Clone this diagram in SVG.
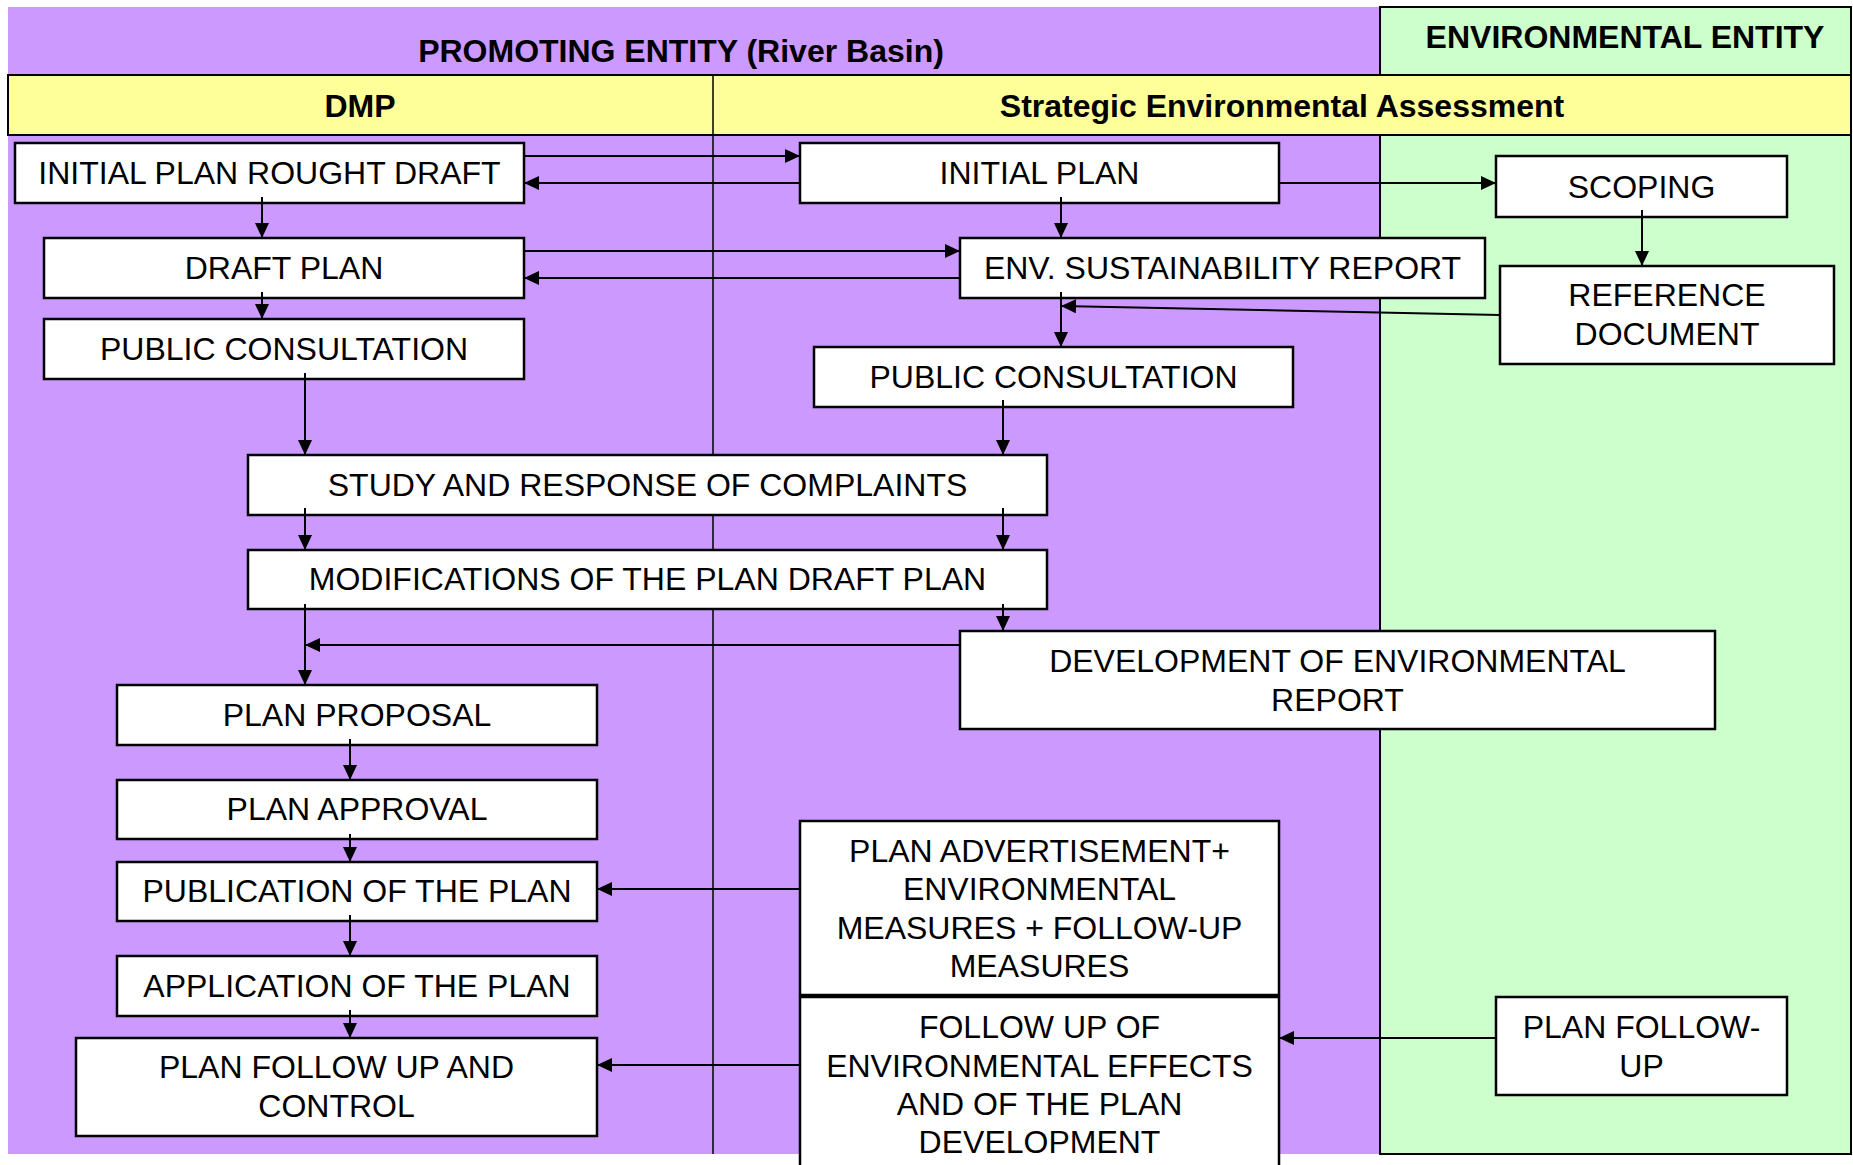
<svg xmlns="http://www.w3.org/2000/svg" width="1853" height="1165" viewBox="0 0 1853 1165">
<style>
.box{fill:#fff;stroke:#000;stroke-width:2.5}
.t{font-family:"Liberation Sans",Arial,sans-serif;font-size:32px;text-anchor:middle;fill:#000}
.h{font-family:"Liberation Sans",Arial,sans-serif;font-size:32px;font-weight:bold;text-anchor:middle;fill:#000}
.c{fill:none;stroke:#000;stroke-width:2;marker-end:url(#ah)}
</style>
<defs>
<marker id="ah" markerWidth="15" markerHeight="14" refX="15" refY="7" orient="auto" markerUnits="userSpaceOnUse">
<path d="M0,0 L15,7 L0,14 Z" fill="#000"/>
</marker>
</defs>
<rect x="0" y="0" width="1853" height="1165" fill="#fff"/>
<g id="lanes">
<rect x="8" y="7" width="1372" height="1147" fill="#CC99FF"/>
<rect x="1380" y="7" width="471" height="1147" fill="#CCFFCC" stroke="#000" stroke-width="2"/>
<rect x="8" y="75" width="1843" height="60" fill="#FFFF99" stroke="#000" stroke-width="2"/>
<line x1="713" y1="75" x2="713" y2="1154" stroke="#000" stroke-width="1.5"/>
<text class="h" x="681" y="62">PROMOTING ENTITY (River Basin)</text>
<text class="h" x="1625" y="48">ENVIRONMENTAL ENTITY</text>
<text class="h" x="360" y="117">DMP</text>
<text class="h" x="1282" y="117">Strategic Environmental Assessment</text>
</g>
<g id="n-rough"><rect class="box" x="15" y="143" width="509" height="60"/><text class="t" x="269.5" y="184">INITIAL PLAN ROUGHT DRAFT</text></g>
<g id="n-draft"><rect class="box" x="44" y="238" width="480" height="60"/><text class="t" x="284" y="279">DRAFT PLAN</text></g>
<g id="n-pc1"><rect class="box" x="44" y="319" width="480" height="60"/><text class="t" x="284" y="360">PUBLIC CONSULTATION</text></g>
<g id="n-initial"><rect class="box" x="800" y="143" width="479" height="60"/><text class="t" x="1039.5" y="184">INITIAL PLAN</text></g>
<g id="n-scoping"><rect class="box" x="1496" y="156" width="291" height="61"/><text class="t" x="1641.5" y="197.5">SCOPING</text></g>
<g id="n-env"><rect class="box" x="960" y="238" width="525" height="60"/><text class="t" x="1222.5" y="279">ENV. SUSTAINABILITY REPORT</text></g>
<g id="n-ref"><rect class="box" x="1500" y="266" width="334" height="98"/><text class="t" x="1667" y="306">REFERENCE</text><text class="t" x="1667" y="345">DOCUMENT</text></g>
<g id="n-pc2"><rect class="box" x="814" y="347" width="479" height="60"/><text class="t" x="1053.5" y="388">PUBLIC CONSULTATION</text></g>
<g id="n-study"><rect class="box" x="248" y="455" width="799" height="60"/><text class="t" x="647.5" y="496">STUDY AND RESPONSE OF COMPLAINTS</text></g>
<g id="n-modif"><rect class="box" x="248" y="550" width="799" height="59"/><text class="t" x="647.5" y="590">MODIFICATIONS OF THE PLAN DRAFT PLAN</text></g>
<g id="n-dev"><rect class="box" x="960" y="631" width="755" height="98"/><text class="t" x="1337.5" y="672">DEVELOPMENT OF ENVIRONMENTAL</text><text class="t" x="1337.5" y="711">REPORT</text></g>
<g id="n-proposal"><rect class="box" x="117" y="685" width="480" height="60"/><text class="t" x="357" y="726">PLAN PROPOSAL</text></g>
<g id="n-approval"><rect class="box" x="117" y="780" width="480" height="59"/><text class="t" x="357" y="820">PLAN APPROVAL</text></g>
<g id="n-publication"><rect class="box" x="117" y="862" width="480" height="59"/><text class="t" x="357" y="902">PUBLICATION OF THE PLAN</text></g>
<g id="n-application"><rect class="box" x="117" y="956" width="480" height="60"/><text class="t" x="357" y="997">APPLICATION OF THE PLAN</text></g>
<g id="n-pfuc"><rect class="box" x="76" y="1038" width="521" height="98"/><text class="t" x="336.5" y="1078">PLAN FOLLOW UP AND</text><text class="t" x="336.5" y="1117">CONTROL</text></g>
<g id="n-adv"><rect class="box" x="800" y="821" width="479" height="174"/><text class="t" x="1039.5" y="862">PLAN ADVERTISEMENT+</text><text class="t" x="1039.5" y="900">ENVIRONMENTAL</text><text class="t" x="1039.5" y="939">MEASURES + FOLLOW-UP</text><text class="t" x="1039.5" y="977">MEASURES</text></g>
<g id="n-followup"><rect class="box" x="800" y="997" width="479" height="180"/><text class="t" x="1039.5" y="1038">FOLLOW UP OF</text><text class="t" x="1039.5" y="1077">ENVIRONMENTAL EFFECTS</text><text class="t" x="1039.5" y="1115">AND OF THE PLAN</text><text class="t" x="1039.5" y="1153">DEVELOPMENT</text></g>
<g id="n-planfu"><rect class="box" x="1496" y="997" width="291" height="98"/><text class="t" x="1641.5" y="1038">PLAN FOLLOW-</text><text class="t" x="1641.5" y="1077">UP</text></g>
<g id="connectors">
<path class="c" d="M524,156 H800"/>
<path class="c" d="M800,183 H524"/>
<path class="c" d="M262,197 V238"/>
<path class="c" d="M524,251 H960"/>
<path class="c" d="M960,278 H524"/>
<path class="c" d="M262,292 V319"/>
<path class="c" d="M1279,183 H1496"/>
<path class="c" d="M1061,197 V238"/>
<path class="c" d="M1642,210 V266"/>
<path class="c" d="M1500,315 L1061,306"/>
<path class="c" d="M1061,292 V347"/>
<path class="c" d="M305,373 V455"/>
<path class="c" d="M1003,400 V455"/>
<path class="c" d="M305,508 V550"/>
<path class="c" d="M1003,508 V550"/>
<path class="c" d="M1003,604 V631"/>
<path class="c" d="M305,604 V685"/>
<path class="c" d="M960,645 H305"/>
<path class="c" d="M350,739 V780"/>
<path class="c" d="M350,834 V862"/>
<path class="c" d="M350,915 V956"/>
<path class="c" d="M350,1010 V1038"/>
<path class="c" d="M800,889 H597"/>
<path class="c" d="M800,1065 H597"/>
<path class="c" d="M1496,1038 H1279"/>
</g>
</svg>
